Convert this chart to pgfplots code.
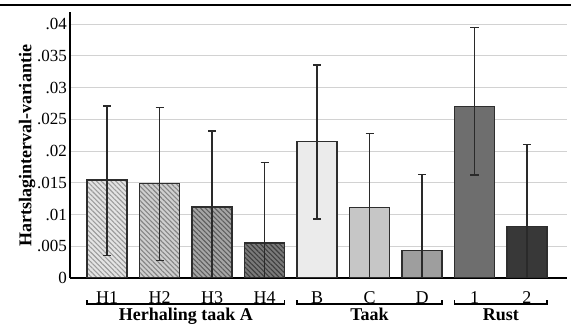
\documentclass[border=0pt]{standalone}
\usepackage{fontspec}
\setmainfont{Liberation Serif}
\usepackage{pgfplots}
\pgfplotsset{compat=1.18}
\usetikzlibrary{patterns.meta}
\definecolor{gridc}{HTML}{D2D2D2}
\definecolor{edgec}{HTML}{2E2E2E}
\definecolor{errc}{HTML}{2A2A2A}
\definecolor{hAf}{HTML}{E4E4E4}\definecolor{hAl}{HTML}{9C9C9C}
\definecolor{hBf}{HTML}{CFCFCF}\definecolor{hBl}{HTML}{858585}
\definecolor{hCf}{HTML}{A6A6A6}\definecolor{hCl}{HTML}{5E5E5E}
\definecolor{hDf}{HTML}{7A7A7A}\definecolor{hDl}{HTML}{3E3E3E}
\definecolor{cB}{HTML}{EBEBEB}
\definecolor{cC}{HTML}{C6C6C6}
\definecolor{cD}{HTML}{9E9E9E}
\definecolor{cE}{HTML}{6E6E6E}
\definecolor{cF}{HTML}{383838}
\begin{document}
\begin{tikzpicture}
\useasboundingbox (-70bp,-47bp) rectangle (501bp,278bp);
\begin{axis}[
  at={(0bp,0bp)}, anchor=south west,
  scale only axis, width=497bp, height=266bp,
  xmin=-0.705, xmax=8.762, ymin=0, ymax=0.0419,
  axis x line=bottom, axis y line=left,
  axis line style={line width=1.8bp, draw=black, -},
  scaled y ticks=false,
  xtick={0,1,2,3,4,5,6,7,8},
  xticklabels={H1,H2,H3,H4,B,C,D,1,2},
  ytick={0,0.005,0.01,0.015,0.02,0.025,0.03,0.035,0.04},
  yticklabels={0,.005,.01,.015,.02,.025,.03,.035,.04},
  major tick length=0pt,
  ymajorgrids, grid style={gridc, line width=1bp},
  x tick label style={font=\fontsize{18bp}{20bp}\selectfont, inner sep=0pt, text height=12bp, text depth=0pt, anchor=north, yshift=-13bp},
  y tick label style={font=\fontsize{17bp}{20bp}\selectfont, inner sep=0pt, xshift=-3bp},
  every axis plot/.append style={ybar, bar width=40bp, bar shift=0pt, draw=edgec, line width=1.4bp,
    error bars/y dir=both, error bars/y explicit,
    error bars/error mark=-,
    error bars/error bar style={line width=1.1bp, draw=errc},
    error bars/error mark options={rotate=90, line width=1.2bp, draw=errc, mark size=4bp}},
]
\addplot[fill=hAf, postaction={pattern={Lines[angle=-45,distance=3.4bp,line width=1.1bp]}, pattern color=hAl}]
  coordinates {(0,0.01543) += (0,0.01166) -= (0,0.01192)};
\addplot[fill=hBf, postaction={pattern={Lines[angle=-45,distance=3.4bp,line width=1.1bp]}, pattern color=hBl}]
  coordinates {(1,0.01485) += (0,0.01203) -= (0,0.01207)};
\addplot[fill=hCf, postaction={pattern={Lines[angle=-45,distance=3.4bp,line width=1.1bp]}, pattern color=hCl}]
  coordinates {(2,0.01118) += (0,0.01197) -= (0,0.01197)};
\addplot[fill=hDf, postaction={pattern={Lines[angle=-45,distance=3.4bp,line width=1.1bp]}, pattern color=hDl}]
  coordinates {(3,0.00550) += (0,0.01272) -= (0,0.01272)};
\addplot[fill=cB] coordinates {(4,0.02147) += (0,0.01207) -= (0,0.01218)};
\addplot[fill=cC] coordinates {(5,0.01113) += (0,0.01165) -= (0,0.01165)};
\addplot[fill=cD] coordinates {(6,0.00436) += (0,0.01197) -= (0,0.01197)};
\addplot[fill=cE] coordinates {(7,0.02698) += (0,0.01250) -= (0,0.01076)};
\addplot[fill=cF] coordinates {(8,0.00808) += (0,0.01297) -= (0,0.01297)};
\end{axis}
% top rule
\draw[line width=2.2bp] (-70bp,273bp) -- (501bp,273bp);
% y label
\node[rotate=90, font=\fontsize{18bp}{20bp}\selectfont\bfseries] at (-43bp,132bp) {Hartslaginterval-variantie};
% group brackets
\begin{scope}[line width=1.1bp, draw=black]
\draw (17bp,-22bp) -- (17bp,-26bp) -- (214.5bp,-26bp) -- (214.5bp,-22bp);
\draw (227bp,-22bp) -- (227bp,-26bp) -- (372bp,-26bp) -- (372bp,-22bp);
\draw (384.5bp,-22bp) -- (384.5bp,-26bp) -- (477bp,-26bp) -- (477bp,-22bp);
\end{scope}
\tikzset{grp/.style={font=\fontsize{18bp}{20bp}\selectfont\bfseries, inner sep=0pt, text height=12.5bp, text depth=4bp, anchor=base}}
\node[grp] at (115.8bp,-42.5bp) {Herhaling taak A};
\node[grp] at (299.5bp,-42.5bp) {Taak};
\node[grp] at (430.8bp,-42.5bp) {Rust};
\end{tikzpicture}
\end{document}
